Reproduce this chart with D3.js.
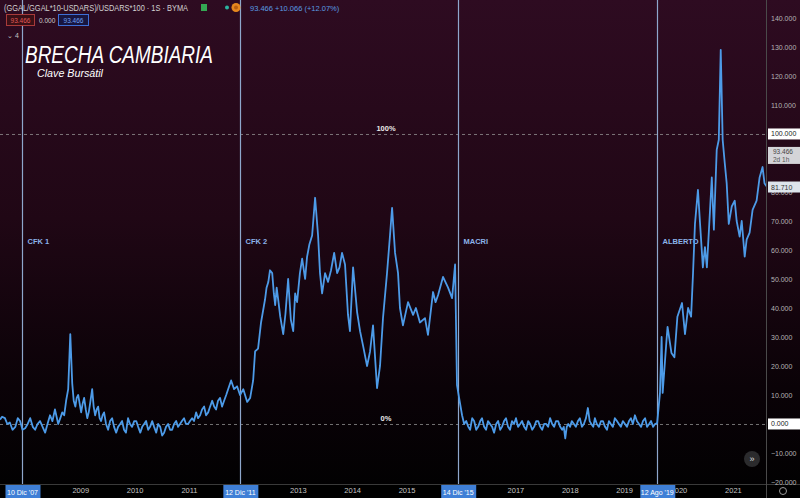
<!DOCTYPE html>
<html><head><meta charset="utf-8">
<script src="https://cdn.jsdelivr.net/npm/d3@7"></script>
<style>html,body{margin:0;padding:0;background:#000;overflow:hidden}text{font-family:"Liberation Sans",Arial,sans-serif}</style>
</head><body><svg id="c" width="800" height="498"></svg>
<script>
// ---------------- DATA ----------------
const dates = [
"2007-07-12","2007-07-26","2007-08-14","2007-08-30","2007-09-16","2007-10-04","2007-10-23","2007-11-08","2007-11-24","2007-12-10","2007-12-28",
"2008-01-14","2008-01-31","2008-02-17","2008-03-04","2008-03-20","2008-04-06","2008-04-23","2008-05-10","2008-05-26","2008-06-12","2008-06-28","2008-07-15","2008-08-06","2008-08-20","2008-09-02","2008-09-15","2008-09-28","2008-10-12","2008-10-26","2008-11-08","2008-11-18","2008-11-29","2008-12-08","2008-12-18",
"2009-01-07","2009-01-17","2009-01-27","2009-02-07","2009-02-17","2009-02-27","2009-03-08","2009-03-22","2009-04-01","2009-04-11","2009-04-21","2009-05-01","2009-05-11","2009-05-21","2009-05-31","2009-06-10","2009-06-23","2009-07-07","2009-07-20","2009-08-03","2009-08-16","2009-08-30","2009-09-12","2009-09-26","2009-10-09","2009-10-22","2009-11-04","2009-11-18","2009-12-01","2009-12-15","2009-12-29",
"2010-01-12","2010-01-25","2010-02-08","2010-02-21","2010-03-06","2010-03-19","2010-04-02","2010-04-15","2010-04-29","2010-05-12","2010-05-26","2010-06-08","2010-06-22","2010-07-05","2010-07-18","2010-07-31","2010-08-14","2010-08-27","2010-09-10","2010-09-23","2010-10-07","2010-10-20","2010-11-02","2010-11-15","2010-11-29","2010-12-12","2010-12-26",
"2011-01-08","2011-01-22","2011-02-04","2011-02-18","2011-03-03","2011-03-17","2011-03-30","2011-04-13","2011-04-26","2011-05-10","2011-05-23","2011-06-06","2011-06-19","2011-07-02","2011-07-15","2011-07-29","2011-08-11","2011-08-25","2011-09-08","2011-09-21","2011-10-11","2011-10-31","2011-11-20","2011-12-10",
"2012-01-01","2012-01-27","2012-02-16","2012-03-07","2012-03-20","2012-04-09","2012-04-29","2012-05-26","2012-06-05","2012-06-17","2012-06-28","2012-07-13","2012-07-24","2012-08-02","2012-08-12","2012-08-22","2012-09-05","2012-09-25","2012-10-10","2012-10-28","2012-11-15","2012-12-01","2012-12-14","2012-12-27",
"2013-01-15","2013-01-30","2013-02-19","2013-03-04","2013-03-20","2013-04-07","2013-04-27","2013-05-17","2013-05-30","2013-06-13","2013-07-03","2013-07-23","2013-08-12","2013-09-02","2013-09-22","2013-10-08","2013-10-25","2013-11-14","2013-12-04","2013-12-17",
"2014-01-07","2014-02-03","2014-02-23","2014-03-15","2014-04-11","2014-05-01","2014-05-21","2014-06-17","2014-07-07","2014-07-27","2014-08-23","2014-09-12","2014-09-26","2014-10-16","2014-11-05","2014-11-18","2014-12-08",
"2015-01-11","2015-02-14","2015-03-05","2015-04-01","2015-05-05","2015-05-25","2015-06-28","2015-07-15","2015-08-01","2015-09-03","2015-10-07","2015-11-03","2015-11-23","2015-12-06","2015-12-20",
"2016-01-09","2016-01-23","2016-02-06","2016-02-20","2016-03-03","2016-03-17","2016-03-30","2016-04-13","2016-04-26","2016-05-10","2016-05-22","2016-06-05","2016-06-18","2016-07-01","2016-07-15","2016-07-29","2016-08-11","2016-08-25","2016-09-07","2016-09-21","2016-10-03","2016-10-17","2016-10-30","2016-11-13","2016-11-26","2016-12-09","2016-12-23",
"2017-01-05","2017-01-19","2017-02-02","2017-02-15","2017-03-01","2017-03-14","2017-03-28","2017-04-10","2017-04-24","2017-05-07","2017-05-21","2017-06-03","2017-06-17","2017-06-30","2017-07-13","2017-07-27","2017-08-09","2017-08-22","2017-09-05","2017-09-18","2017-10-01","2017-10-15","2017-10-29","2017-11-11","2017-11-22","2017-12-02","2017-12-12","2017-12-22",
"2018-01-03","2018-01-15","2018-01-29","2018-02-11","2018-02-25","2018-03-10","2018-03-24","2018-04-06","2018-04-20","2018-05-03","2018-05-15","2018-05-26","2018-06-08","2018-06-19","2018-07-02","2018-07-16","2018-07-30","2018-08-12","2018-08-26","2018-09-08","2018-09-21","2018-10-04","2018-10-18","2018-10-31","2018-11-14","2018-11-27","2018-12-10","2018-12-24",
"2019-01-07","2019-01-20","2019-02-03","2019-02-16","2019-03-01","2019-03-15","2019-03-28","2019-04-11","2019-04-25","2019-05-08","2019-05-22","2019-06-04","2019-06-18","2019-07-01","2019-07-15","2019-07-28","2019-08-11","2019-08-30","2019-09-10","2019-09-17","2019-10-13","2019-10-20","2019-11-15","2019-12-05","2019-12-25",
"2020-01-25","2020-02-14","2020-03-06","2020-03-26","2020-04-08","2020-04-21","2020-05-11","2020-05-24","2020-06-13","2020-06-27","2020-07-10","2020-07-30","2020-08-12","2020-08-26","2020-09-14","2020-09-28","2020-10-11","2020-10-24","2020-11-07","2020-11-20","2020-12-04","2020-12-24",
"2021-01-13","2021-01-26","2021-02-15","2021-03-01","2021-03-21","2021-04-03","2021-04-23","2021-05-13","2021-06-09","2021-06-29","2021-07-19","2021-08-01","2021-08-14"
];
const values = [
1.5,2.5,2,0,0.5,-2,-1,2,1,-2,-1.5,
0,2,-1,-2,0,1,-1,-3,0,3,1,5,0,2,4,3,8,12,31,14,8,6,9,10,
4,7,9,5,2,4,7,12,6,3,5,6,2,1,3,4,0,-2,1,2,-1,-3,-1,0,1,-2,-3,2,0,-1,1,
1,-1,-3,-1,0,1,-2,-1,1,-1,-3,0,-1,-4,-3,-1,0,-2,-2,0,1,-1,0,1,2,0,0,
1,2,1,4,2,3,5,6,3,4,6,8,6,5,8,9,6,8,10,12,15,12,13,10,
12,7.6,9,15,25,26,35,43,47,49,53,52,45,41,47,43,37,31,38,50,36,32,45,42,
52,57,50,57.6,62,65,78,65,52,45,52,49,53,59,52,54,59,55,37.6,32,
54,38.6,32,27,20,25,34,12.4,20,36.5,52,65,74.5,59,52,40,34,
42,37.6,40,35,36.5,30.7,45.5,42,44.5,50.7,47,43.4,55,13.4,9,
3,0,1,-1,-2,2,1,-2,-1,1,2,-1,-2,1,0,-1,-3,0,1,-2,-1,1,2,-1,-2,1,0,
2,-1,0,1,-1,-2,1,0,-2,-1,1,1,-1,-2,0,0,-1,2,0,-1,1,1,-1,-2,-1,-5,-1,0,
-1,1,0,-1,1,2,-1,0,2,5.5,1,0,-1,2,0,-1,1,1,-1,-2,1,0,-1,2,1,0,-1,1,
0,-1,1,2,0,3,1,0,-1,1,2,-1,0,1,-1,0,0.3,10.7,30,10.7,29,33.5,24.5,23,37,
41.7,31,40,37,52,69,80.7,70,54,61,54,72.7,85,67,94.5,98,129,98,90,83,69,75,
77,70,64.6,70,57.7,63.6,66,73.8,77,85,88.6,83,82
];
const eventDates = ["2007-12-10","2011-12-12","2015-12-14","2019-08-12"];
const eventNames = ["CFK 1","CFK 2","MACRI","ALBERTO"];
const eventTickLabels = ["10 Dic '07","12 Dic '11","14 Dic '15","12 Ago '19"];
const yearTicks = ["2009","2010","2011","2013","2014","2015","2017","2018","2019","2020","2021"];
const yTicks = [-20,-10,0,10,20,30,40,50,60,70,80,100,110,120,130,140];
const refLevels = [100, 0];
const refLabels = ["100%", "0%"];
const lastClose = 81.71;
const countdownValue = 93.466;
const countdownText = "2d 1h";
const headerSymbol = "(GGAL/GGAL*10-USDARS)/USDARS*100 · 1S · BYMA";
const headerValues = ["93.466", "0.000", "93.466"];
const headerChange = "93.466  +10.066 (+12.07%)";
const titleText = "BRECHA CAMBIARIA";
const subtitleText = "Clave Bursátil";

// ---------------- CHART ----------------
const svg = d3.select("#c");
const W = 766, H = 484;
const parse = d3.utcParse("%Y-%m-%d");
const data = dates.map((d, i) => ({d: parse(d), v: values[i]}));

const x = d3.scaleUtc().domain([parse("2007-07-12"), parse("2021-08-11")]).range([0, W]);
const y = d3.scaleLinear().domain([-20.7, 146.2]).range([H, 0]);

const defs = svg.append("defs");
const g = defs.append("linearGradient").attr("id", "bg").attr("x1", 0).attr("y1", 0).attr("x2", 0).attr("y2", 1);
g.append("stop").attr("offset", "0%").attr("stop-color", "#2e0b21");
g.append("stop").attr("offset", "45%").attr("stop-color", "#200715");
g.append("stop").attr("offset", "80%").attr("stop-color", "#0a0207");
g.append("stop").attr("offset", "100%").attr("stop-color", "#020102");
defs.append("clipPath").attr("id", "clip").append("rect").attr("width", W).attr("height", H);

svg.append("rect").attr("width", 800).attr("height", H).attr("fill", "url(#bg)");
svg.append("rect").attr("y", H).attr("width", 800).attr("height", 498 - H).attr("fill", "#000");

// reference dashed lines
refLevels.forEach((lv, i) => {
  svg.append("line").attr("x1", 0).attr("x2", W).attr("y1", y(lv) + 0.5).attr("y2", y(lv) + 0.5)
    .attr("stroke", "#9a9a9a").attr("stroke-opacity", 0.75).attr("stroke-dasharray", "3,3");
  svg.append("text").attr("x", 386).attr("y", y(lv) - 3).attr("text-anchor", "middle")
    .attr("font-size", 7.5).attr("font-weight", "bold").attr("fill", "#e8e8e8").text(refLabels[i]);
});

// event vertical lines
eventDates.forEach((ed, i) => {
  const ex = Math.round(x(parse(ed))) + 0.5;
  svg.append("line").attr("x1", ex).attr("x2", ex).attr("y1", 0).attr("y2", 498)
    .attr("stroke", "#8ea7cc").attr("stroke-width", 1.2);
  svg.append("text").attr("x", ex + 5).attr("y", 244).attr("font-size", 7.5).attr("font-weight", "bold")
    .attr("fill", "#8cb3ea").text(eventNames[i]);
});

// the series line
svg.append("path").datum(data).attr("clip-path", "url(#clip)")
  .attr("fill", "none").attr("stroke", "#4d9be8").attr("stroke-width", 1.8).attr("stroke-linejoin", "round")
  .attr("d", d3.line().x(d => x(d.d)).y(d => y(d.v)));

// axes borders
svg.append("line").attr("x1", 0).attr("x2", 800).attr("y1", H + 0.5).attr("y2", H + 0.5).attr("stroke", "#3a3a3a");
svg.append("line").attr("x1", W + 0.5).attr("x2", W + 0.5).attr("y1", 0).attr("y2", 498).attr("stroke", "#4a4a4a");

// bottom axis
const xAxis = d3.axisBottom(x).tickValues(yearTicks.map(t => parse(t + "-01-01")))
  .tickSize(0).tickPadding(4).tickFormat(d3.utcFormat("%Y"));
const gx = svg.append("g").attr("transform", `translate(0,${H})`).call(xAxis);
gx.select(".domain").remove();
gx.selectAll("text").attr("font-size", 7.5).attr("fill", "#c4c4c4").attr("font-family", "Liberation Sans, Arial, sans-serif");

// event tick label boxes
eventDates.forEach((ed, i) => {
  const ex = x(parse(ed));
  svg.append("rect").attr("x", ex - 17).attr("y", H + 1).attr("width", 35).attr("height", 13).attr("fill", "#3f7fd6");
  svg.append("text").attr("x", ex).attr("y", H + 10.5).attr("text-anchor", "middle")
    .attr("font-size", 7).attr("fill", "#ffffff").text(eventTickLabels[i]);
});

// right axis
const yAxis = d3.axisRight(y).tickValues(yTicks).tickSize(0).tickPadding(5).tickFormat(d3.format(".3f"));
const gy = svg.append("g").attr("transform", `translate(${W},0)`).call(yAxis);
gy.select(".domain").remove();
gy.selectAll("text").attr("font-size", 7).attr("fill", "#b4b4b4").attr("font-family", "Liberation Sans, Arial, sans-serif");

// right price boxes
function priceBox(v, txt, fill, color) {
  const yy = y(v);
  svg.append("rect").attr("x", W + 2).attr("y", yy - 5.5).attr("width", 32).attr("height", 11).attr("fill", fill);
  svg.append("text").attr("x", W + 5).attr("y", yy + 2.5).attr("font-size", 7).attr("fill", color).text(txt);
}
priceBox(100, d3.format(".3f")(100), "#ffffff", "#222");
priceBox(0, d3.format(".3f")(0), "#ffffff", "#222");
priceBox(lastClose, d3.format(".3f")(lastClose), "#dde4ec", "#333");
{
  const yy = y(countdownValue);
  svg.append("rect").attr("x", W + 2).attr("y", yy - 6).attr("width", 32).attr("height", 17).attr("fill", "#d4d4d8");
  svg.append("text").attr("x", W + 7).attr("y", yy + 1.5).attr("font-size", 6.5).attr("fill", "#444").text(d3.format(".3f")(countdownValue));
  svg.append("text").attr("x", W + 7).attr("y", yy + 9).attr("font-size", 6.5).attr("fill", "#555").text(countdownText);
}

// bottom right icons
svg.append("circle").attr("cx", 783).attr("cy", 491).attr("r", 3.5).attr("fill", "none").attr("stroke", "#9a9a9a").attr("stroke-width", 1);
svg.append("circle").attr("cx", 752).attr("cy", 459).attr("r", 8).attr("fill", "#2b2b2d");
svg.append("text").attr("x", 752).attr("y", 462).attr("text-anchor", "middle").attr("font-size", 9).attr("fill", "#ddd").text("»");

// header
svg.append("text").attr("x", 4).attr("y", 11).attr("font-size", 8.4).attr("fill", "#d2d2d2")
  .attr("textLength", 184).attr("lengthAdjust", "spacingAndGlyphs").text(headerSymbol);
svg.append("rect").attr("x", 201).attr("y", 4).attr("width", 6).attr("height", 7).attr("fill", "#34a853");
svg.append("circle").attr("cx", 227).attr("cy", 7.5).attr("r", 2).attr("fill", "#2bb3a0");
svg.append("circle").attr("cx", 236).attr("cy", 7.5).attr("r", 4.5).attr("fill", "#e6871e");
svg.append("circle").attr("cx", 236).attr("cy", 7.5).attr("r", 2).attr("fill", "#b85e10");
svg.append("text").attr("x", 250).attr("y", 11).attr("font-size", 7.5).attr("fill", "#5a9be2").text(headerChange);

svg.append("rect").attr("x", 6.5).attr("y", 14.5).attr("width", 28).attr("height", 11).attr("fill", "#3a1016").attr("stroke", "#a83a3a");
svg.append("text").attr("x", 20.5).attr("y", 22.5).attr("text-anchor", "middle").attr("font-size", 6.5).attr("fill", "#e05a5a").text(headerValues[0]);
svg.append("text").attr("x", 39).attr("y", 22.5).attr("font-size", 6.5).attr("fill", "#cfcfcf").text(headerValues[1]);
svg.append("rect").attr("x", 58.5).attr("y", 14.5).attr("width", 30).attr("height", 11).attr("fill", "#181640").attr("stroke", "#3e6fd6");
svg.append("text").attr("x", 73.5).attr("y", 22.5).attr("text-anchor", "middle").attr("font-size", 6.5).attr("fill", "#6fa0f5").text(headerValues[2]);
svg.append("text").attr("x", 7).attr("y", 38).attr("font-size", 7).attr("fill", "#c0c0c0").text("⌄ 4");

// title
svg.append("text").attr("x", 25).attr("y", 63).attr("font-size", 23).attr("font-style", "italic")
  .attr("font-family", "Open Sans, sans-serif").attr("fill", "#ffffff")
  .attr("textLength", 188).attr("lengthAdjust", "spacingAndGlyphs").text(titleText);
svg.append("text").attr("x", 37).attr("y", 77).attr("font-size", 10.5).attr("font-style", "italic")
  .attr("font-family", "Open Sans, sans-serif").attr("fill", "#ffffff")
  .attr("textLength", 66).attr("lengthAdjust", "spacingAndGlyphs").text(subtitleText);
</script>
</body></html>
